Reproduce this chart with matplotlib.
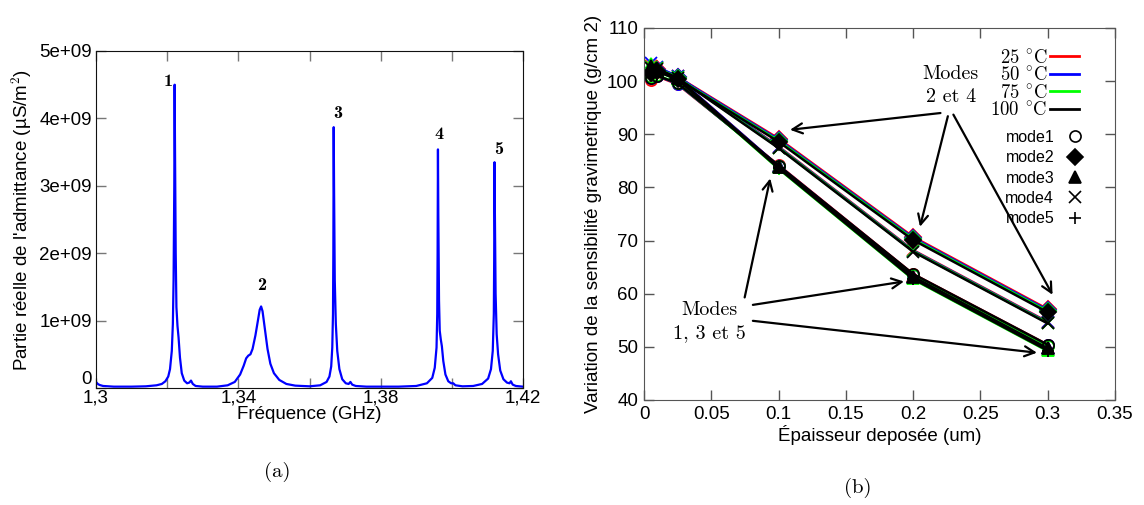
import numpy as np
import matplotlib
matplotlib.use('Agg')
import matplotlib.pyplot as plt
from matplotlib.lines import Line2D
from matplotlib.ticker import FuncFormatter

plt.rcParams['font.family'] = ['Liberation Sans', 'DejaVu Sans']
plt.rcParams['mathtext.fontset'] = 'cm'

# ---- (a) spectre d'admittance (en 1e9 uS/m2)
freq = [1.3000, 1.3005, 1.3010, 1.3020, 1.3050, 1.3100, 1.3140, 1.3170, 1.3185, 1.3195,
        1.3203, 1.3208, 1.3213, 1.3216, 1.3218, 1.3220, 1.3221, 1.3222, 1.3224, 1.3226,
        1.3229, 1.3232, 1.3236, 1.3241, 1.3248, 1.3256, 1.3262, 1.3267, 1.3272, 1.3280,
        1.3300, 1.3340, 1.3370, 1.3390, 1.3405, 1.3415, 1.3422, 1.3428, 1.3434, 1.3440,
        1.3448, 1.3455, 1.3460, 1.3464, 1.3468, 1.3474, 1.3482, 1.3490, 1.3500, 1.3515,
        1.3535, 1.3560, 1.3600, 1.3630, 1.3648, 1.3656, 1.3661, 1.3664, 1.3666, 1.3667,
        1.3668, 1.3669, 1.3671, 1.3674, 1.3678, 1.3684, 1.3692, 1.3702, 1.3710, 1.3715,
        1.3720, 1.3730, 1.3760, 1.3850, 1.3900, 1.3930, 1.3945, 1.3952, 1.3957, 1.3959,
        1.3960, 1.3961, 1.3962, 1.3964, 1.3966, 1.3969, 1.3972, 1.3976, 1.3982, 1.3990,
        1.3998, 1.4004, 1.4010, 1.4030, 1.4060, 1.4085, 1.4102, 1.4110, 1.4115, 1.4118,
        1.4119, 1.4120, 1.4121, 1.4123, 1.4126, 1.4130, 1.4136, 1.4145, 1.4155, 1.4162,
        1.4166, 1.4171, 1.4180, 1.4200]
adm = [0.09, 0.06, 0.045, 0.03, 0.02, 0.02, 0.025, 0.04, 0.06, 0.10,
       0.17, 0.28, 0.55, 0.95, 1.6, 3.0, 4.5, 3.6, 2.0, 1.2,
       0.92, 0.75, 0.45, 0.22, 0.11, 0.07, 0.08, 0.11, 0.06, 0.03,
       0.02, 0.02, 0.04, 0.09, 0.20, 0.33, 0.44, 0.48, 0.50, 0.58,
       0.78, 1.00, 1.16, 1.21, 1.14, 0.90, 0.58, 0.36, 0.22, 0.12,
       0.06, 0.035, 0.025, 0.04, 0.09, 0.17, 0.32, 0.6, 1.1, 2.0,
       3.87, 3.0, 1.6, 0.95, 0.55, 0.28, 0.13, 0.07, 0.06, 0.09,
       0.05, 0.03, 0.02, 0.02, 0.03, 0.07, 0.15, 0.30, 0.6, 1.1,
       2.0, 3.54, 2.6, 1.3, 0.85, 0.72, 0.62, 0.40, 0.20, 0.10,
       0.07, 0.07, 0.04, 0.025, 0.03, 0.06, 0.14, 0.28, 0.55, 1.1,
       1.9, 3.35, 2.6, 1.4, 0.8, 0.5, 0.26, 0.13, 0.08, 0.07,
       0.10, 0.05, 0.03, 0.02]
peak_names = ['1', '2', '3', '4', '5']
peak_x = [1.3204, 1.3466, 1.3680, 1.3964, 1.4132]
peak_y = [4.55, 1.52, 4.08, 3.76, 3.54]

# ---- (b) sensibilité gravimétrique
epaisseur = [0.005, 0.01, 0.025, 0.1, 0.2, 0.3]
temps = ['25 $^{\\circ}$C', '50 $^{\\circ}$C', '75 $^{\\circ}$C', '100 $^{\\circ}$C']
temp_colors = ['#ff0000', '#0000ff', '#00ff00', '#000000']
modes = ['mode1', 'mode2', 'mode3', 'mode4', 'mode5']
sens_25 = [[100.2, 100.9, 99.4, 84.2, 63.7, 50.4],
           [102.0, 102.2, 100.8, 89.2, 70.7, 57.1],
           [102.6, 102.1, 100.6, 84.0, 63.3, 49.8],
           [102.9, 102.5, 100.9, 87.7, 68.2, 54.7],
           [102.2, 102.0, 100.4, 83.7, 62.9, 49.4]]
sens_50 = [[100.5, 101.0, 99.5, 84.1, 63.6, 50.3],
           [101.9, 102.1, 100.7, 89.0, 70.5, 56.9],
           [103.0, 102.3, 100.6, 84.0, 63.2, 49.7],
           [103.4, 102.6, 100.9, 87.6, 68.1, 54.6],
           [102.2, 102.0, 100.4, 83.7, 62.9, 49.4]]
sens_75 = [[100.7, 101.1, 99.6, 84.0, 63.5, 50.2],
           [101.8, 102.0, 100.5, 88.8, 70.3, 56.7],
           [103.3, 102.3, 100.4, 83.8, 63.0, 49.5],
           [102.6, 102.4, 100.7, 87.5, 68.0, 54.5],
           [102.1, 101.9, 100.2, 83.5, 62.7, 49.2]]
sens_100 = [[100.6, 101.0, 99.6, 84.1, 63.7, 50.4],
            [101.6, 101.9, 100.4, 88.6, 70.1, 56.5],
            [102.8, 102.2, 100.5, 83.9, 63.2, 49.7],
            [102.4, 102.3, 100.6, 87.4, 67.9, 54.4],
            [102.0, 101.8, 100.3, 83.6, 62.8, 49.3]]
sens_all = [sens_25, sens_50, sens_75, sens_100]
mode_markers = ['o', 'D', '^', 'x', '+']
mode_ms = [8, 8, 9, 8, 9]

fig = plt.figure(figsize=(11.44, 5.05), dpi=100)

# ================= (a)
ax1 = fig.add_axes([96 / 1144, 1 - 388 / 505, 427 / 1144, 337 / 505])
ax1.plot(freq, np.array(adm) * 1e9, color='#0000ff', lw=1.6)
for name, px, py in zip(peak_names, peak_x, peak_y):
    ax1.text(px, py * 1e9, name, family='cmb10', fontsize=13, ha='center', va='center')
ax1.set_xlim(1.30, 1.42)
ax1.set_ylim(0, 5e9)
ax1.set_xticks([1.30, 1.32, 1.34, 1.36, 1.38, 1.40, 1.42])
ax1.set_xticklabels(['1,3', '', '1,34', '', '1,38', '', '1,42'])
ax1.set_yticks([0, 1e9, 2e9, 3e9, 4e9, 5e9])
ax1.yaxis.set_major_formatter(FuncFormatter(lambda v, p: '0' if v == 0 else '%.0e' % v))
ax1.tick_params(direction='in', top=True, right=True, length=7, width=1,
                color='#777777', labelsize=13.5, pad=3)
ax1.tick_params(axis='x', pad=1)
ax1.get_yticklabels()[0].set_va('bottom')
for s in ax1.spines.values():
    s.set_color('#111111')
ax1.set_xlabel('Fréquence (GHz)', fontsize=13.5, labelpad=0)
ax1.set_ylabel("Partie réelle de l'admittance (µS/m$^2$)", fontsize=13.5, labelpad=4)
fig.text(277 / 1144, 1 - 472 / 505, '(a)', family='cmr10', fontsize=15, ha='center', va='center')

# ================= (b)
ax2 = fig.add_axes([644 / 1144, 1 - 400 / 505, 471 / 1144, 372 / 505])
for sens, col in zip(sens_all, temp_colors):
    for vals, mk, ms in zip(sens, mode_markers, mode_ms):
        mfc = 'none' if mk == 'o' else col
        ax2.plot(epaisseur, vals, color=col, lw=1.8, marker=mk, ms=ms,
                 mfc=mfc, mec=col, mew=1.3)
ax2.set_xlim(0, 0.35)
ax2.set_ylim(40, 110)
ax2.set_xticks(np.arange(0, 0.351, 0.05))
ax2.set_xticklabels(['0', '0.05', '0.1', '0.15', '0.2', '0.25', '0.3', '0.35'])
ax2.set_yticks(np.arange(40, 111, 10))
ax2.tick_params(direction='in', top=True, right=True, length=7, width=1,
                color='#555555', labelsize=13.5, pad=4)
for s in ax2.spines.values():
    s.set_color('#555555')
ax2.set_xlabel('Épaisseur deposée (um)', fontsize=13.5, labelpad=2)
ax2.set_ylabel('Variation de la sensibilité gravimetrique (g/cm 2)', fontsize=13.5, labelpad=4)

# annotations
arrow = dict(arrowstyle='->', color='black', lw=1.6, mutation_scale=18, shrinkA=0, shrinkB=0)
ax2.text(0.228, 99.2, 'Modes\n2 et 4', family='cmr10', fontsize=14.5, ha='center',
         va='center', linespacing=1.35)
ax2.annotate('', xy=(0.1085, 90.85), xytext=(0.2203, 94.0), arrowprops=arrow)
ax2.annotate('', xy=(0.2051, 72.6), xytext=(0.2258, 93.4), arrowprops=arrow)
ax2.annotate('', xy=(0.3036, 59.8), xytext=(0.2299, 93.7), arrowprops=arrow)
ax2.text(0.0486, 54.75, 'Modes\n1, 3 et 5', family='cmr10', fontsize=14.5, ha='center',
         va='center', linespacing=1.35)
ax2.annotate('', xy=(0.0938, 81.7), xytext=(0.0748, 59.3), arrowprops=arrow)
ax2.annotate('', xy=(0.1932, 62.3), xytext=(0.0809, 57.9), arrowprops=arrow)
ax2.annotate('', xy=(0.2920, 48.9), xytext=(0.0809, 54.9), arrowprops=arrow)

# légendes (style gnuplot : texte puis symbole)
temp_handles = [Line2D([], [], color=c, lw=2) for c in temp_colors]
leg1 = ax2.legend(temp_handles, temps, loc='upper right', bbox_to_anchor=(0.9427, 0.970),
                  frameon=False, markerfirst=False, borderpad=0, handlelength=1.55,
                  handletextpad=0.1, labelspacing=-0.02,
                  prop={'family': 'cmr10', 'size': 13.5})
ax2.add_artist(leg1)
mode_handles = [Line2D([], [], ls='none', marker=m, ms=s, color='black',
                       mfc='none' if m == 'o' else 'black', mew=1.2)
                for m, s in zip(mode_markers, mode_ms)]
ax2.legend(mode_handles, modes, loc='upper right', bbox_to_anchor=(0.949, 0.748),
           frameon=False, markerfirst=False, borderpad=0, handlelength=1.0,
           handletextpad=0.8, labelspacing=0.34, fontsize=11.5)

fig.text(858 / 1144, 1 - 488 / 505, '(b)', family='cmr10', fontsize=15, ha='center', va='center')

plt.savefig('out.png', dpi=100)
